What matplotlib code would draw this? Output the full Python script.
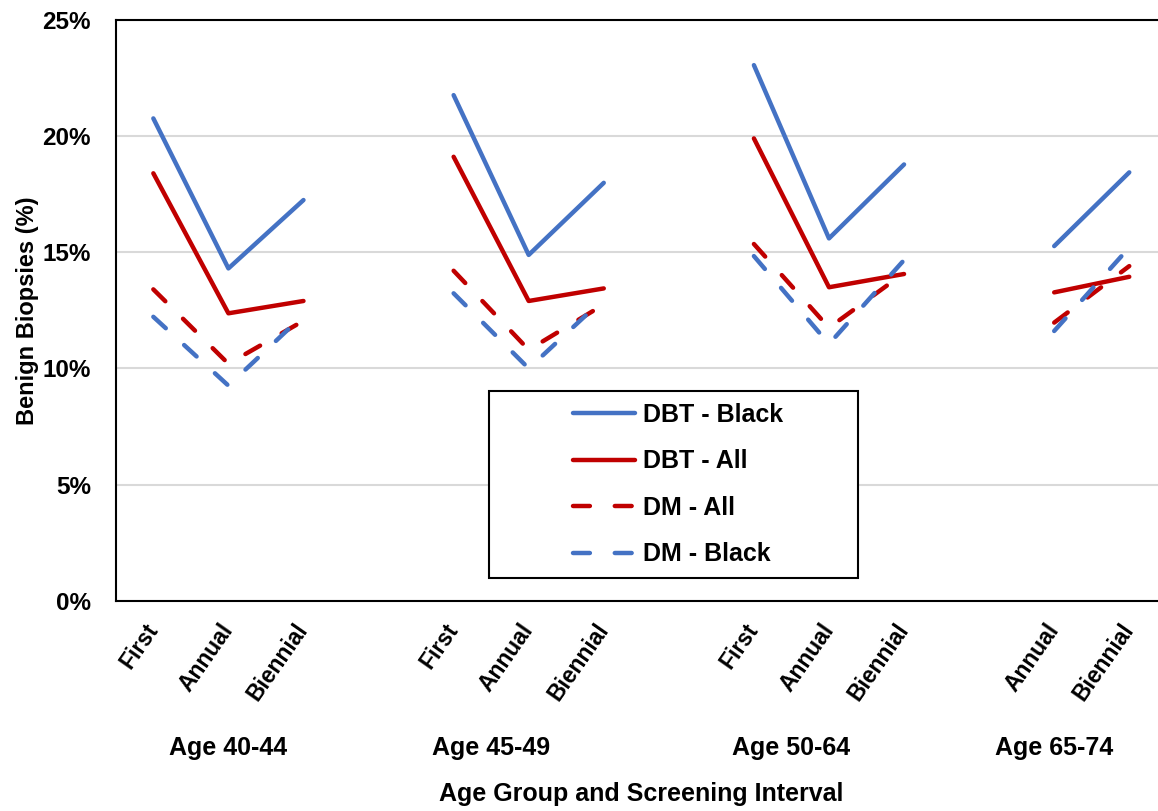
import numpy as np
import matplotlib
matplotlib.use("Agg")
import matplotlib.pyplot as plt
from matplotlib.patches import Rectangle
from matplotlib.ticker import FuncFormatter

plt.rcParams['font.family'] = ['Liberation Sans', 'DejaVu Sans']
plt.rcParams['font.weight'] = 'bold'

BLUE = '#4472C4'
RED = '#C00000'

# category slots (blank slots separate the age groups)
categories = ['First', 'Annual', 'Biennial', '',
              'First', 'Annual', 'Biennial', '',
              'First', 'Annual', 'Biennial', '',
              'Annual', 'Biennial']
age_groups = ['Age 40-44', 'Age 45-49', 'Age 50-64', 'Age 65-74']
group_slots = [(0, 2), (3, 6), (7, 10), (11, 13)]

nan = np.nan
dbt_black = [20.75, 14.30, 17.24, nan, 21.75, 14.88, 17.98, nan, 23.04, 15.59, 18.77, nan, 15.26, 18.43]
dbt_all   = [18.39, 12.37, 12.90, nan, 19.10, 12.90, 13.44, nan, 19.89, 13.49, 14.06, nan, 13.27, 13.94]
dm_all    = [13.40, 10.20, 12.05, nan, 14.20, 10.80, 12.75, nan, 15.35, 11.75, 14.10, nan, 11.97, 14.40]
dm_black  = [12.22,  9.26, 12.30, nan, 13.23, 10.00, 13.00, nan, 14.83, 11.05, 14.66, nan, 11.61, 15.20]

series = [
    ('DBT - Black', dbt_black, BLUE, '-'),
    ('DBT - All', dbt_all, RED, '-'),
    ('DM - All', dm_all, RED, '--'),
    ('DM - Black', dm_black, BLUE, '--'),
]

fig = plt.figure(figsize=(11.58, 8.11), dpi=100)
ax = fig.add_axes([0.1, 0.2589, 0.9076, 0.717])

x = np.arange(len(categories))
handles = []
for label, vals, color, style in series:
    vals = np.array(vals, dtype=float)
    ok = ~np.isnan(vals)
    # split on the gaps so every group starts its own dash pattern
    starts = [i for i in range(len(vals)) if ok[i] and (i == 0 or not ok[i - 1])]
    for s in starts:
        e = s
        while e < len(vals) and ok[e]:
            e += 1
        kw = dict(color=color, lw=3.2, solid_capstyle='round', dash_capstyle='round',
                  solid_joinstyle='round', dash_joinstyle='round')
        if style == '--':
            kw['dashes'] = (3.8, 5.6)
        ln, = ax.plot(x[s:e], vals[s:e], label=label, **kw)
    handles.append(ln)

ax.set_xlim(-0.5, len(categories) - 0.5)
ax.set_ylim(0, 25)
ax.set_yticks([0, 5, 10, 15, 20, 25])
ax.yaxis.set_major_formatter(FuncFormatter(lambda v, p: '%d%%' % v))
ax.yaxis.grid(True, color='#D9D9D9', lw=1.5)
ax.set_axisbelow(True)

for side in ['left', 'top', 'bottom', 'right']:
    ax.spines[side].set_linewidth(1.5)
    ax.spines[side].set_color('black')

ax.set_xticks(x)
ax.set_xticklabels(categories)
ax.tick_params(axis='y', length=0, pad=18, labelsize=17.5)
ax.tick_params(axis='x', length=0, pad=18, labelsize=16.5)
plt.setp(ax.get_xticklabels(), rotation=55, ha='right', va='center',
         rotation_mode='anchor')

for name, (a, b) in zip(age_groups, group_slots):
    ax.text((a + b) / 2, -0.2528, name, transform=ax.get_xaxis_transform(),
            ha='center', va='center', fontsize=18, fontweight='bold')

ax.text(0.5, -0.332, 'Age Group and Screening Interval', transform=ax.transAxes,
        ha='center', va='center', fontsize=18, fontweight='bold')

ax.set_ylabel('Benign Biopsies (%)', fontsize=17, fontweight='bold')
ax.yaxis.set_label_coords(-0.073, 0.5)

# legend box
ax.add_patch(Rectangle((0.355, 0.0396), 0.351, 0.321, transform=ax.transAxes,
                       facecolor='white', edgecolor='black', lw=1.5, zorder=4))
ax.legend(handles, [s[0] for s in series], loc='center',
          bbox_to_anchor=(0.535, 0.2003), frameon=False,
          prop={'size': 18, 'weight': 'bold'}, handlelength=2.5,
          handletextpad=0.32, labelspacing=0.9)

fig.savefig('out.png', dpi=100)
